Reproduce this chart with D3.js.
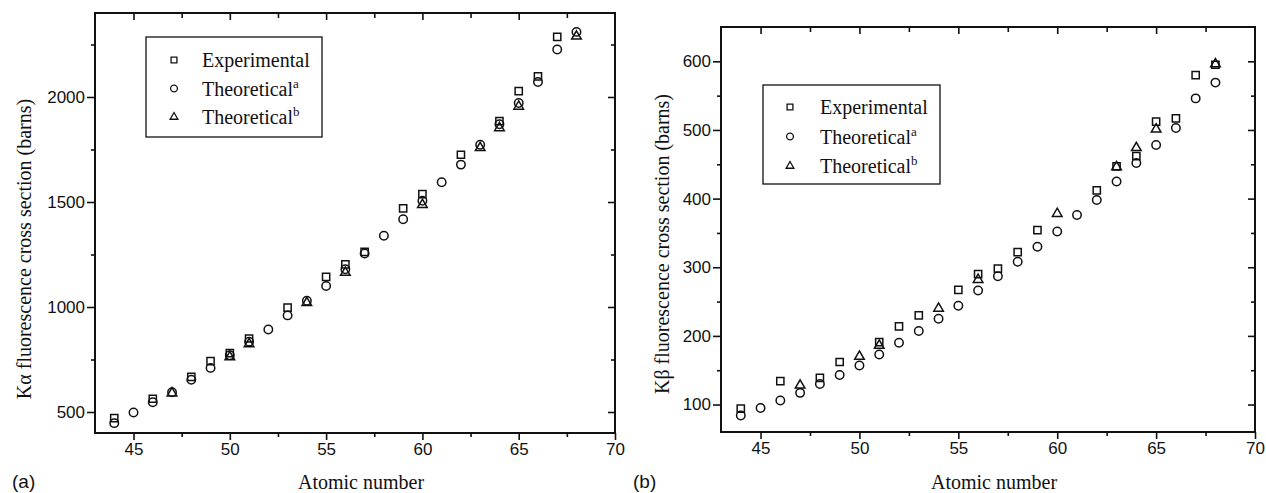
<!DOCTYPE html>
<html>
<head>
<meta charset="utf-8">
<script src="https://cdn.jsdelivr.net/npm/d3@7"></script>
<style>
  body { margin: 0; background: #fff; }
  .tick text { font-family: "Liberation Sans", Arial, sans-serif; font-size: 17px; fill: #111; }
  .tick line { stroke: #111; stroke-width: 1.6; }
  .title { font-family: "Liberation Serif", "Times New Roman", serif; font-size: 20px; fill: #111; }
</style>
</head>
<body>
<svg id="chart"></svg>
<script>
// atomic number (z) vs. fluorescence cross section in barns (v)
const kaExperimental = [
  { z: 44, v: 471 }, { z: 46, v: 563 }, { z: 48, v: 667 }, { z: 49, v: 742 },
  { z: 50, v: 780 }, { z: 51, v: 850 }, { z: 53, v: 997 }, { z: 55, v: 1143 },
  { z: 56, v: 1203 }, { z: 57, v: 1262 }, { z: 59, v: 1470 }, { z: 60, v: 1538 },
  { z: 62, v: 1725 }, { z: 64, v: 1885 }, { z: 65, v: 2028 }, { z: 66, v: 2098 },
  { z: 67, v: 2286 },
];
const kaTheoreticalA = [
  { z: 44, v: 447 }, { z: 45, v: 498 }, { z: 46, v: 546 }, { z: 47, v: 594 },
  { z: 48, v: 654 }, { z: 49, v: 710 }, { z: 50, v: 770 }, { z: 51, v: 835 },
  { z: 52, v: 893 }, { z: 53, v: 960 }, { z: 54, v: 1030 }, { z: 55, v: 1100 },
  { z: 56, v: 1180 }, { z: 57, v: 1255 }, { z: 58, v: 1339 }, { z: 59, v: 1418 },
  { z: 60, v: 1506 }, { z: 61, v: 1594 }, { z: 62, v: 1678 }, { z: 63, v: 1773 },
  { z: 64, v: 1870 }, { z: 65, v: 1971 }, { z: 66, v: 2071 }, { z: 67, v: 2226 },
  { z: 68, v: 2310 },
];
const kaTheoreticalB = [
  { z: 47, v: 590 }, { z: 50, v: 762 }, { z: 51, v: 824 }, { z: 54, v: 1020 },
  { z: 56, v: 1164 }, { z: 60, v: 1487 }, { z: 63, v: 1758 }, { z: 64, v: 1853 },
  { z: 65, v: 1955 }, { z: 68, v: 2289 },
];

const kbExperimental = [
  { z: 44, v: 94 }, { z: 46, v: 134 }, { z: 48, v: 139 }, { z: 49, v: 162 },
  { z: 51, v: 191 }, { z: 52, v: 214 }, { z: 53, v: 230 }, { z: 55, v: 267 },
  { z: 56, v: 290 }, { z: 57, v: 298 }, { z: 58, v: 322 }, { z: 59, v: 354 },
  { z: 62, v: 412 }, { z: 63, v: 447 }, { z: 64, v: 462 }, { z: 65, v: 512 },
  { z: 66, v: 517 }, { z: 67, v: 580 }, { z: 68, v: 595 },
];
const kbTheoreticalA = [
  { z: 44, v: 84 }, { z: 45, v: 95 }, { z: 46, v: 106 }, { z: 47, v: 117 },
  { z: 48, v: 130 }, { z: 49, v: 143 }, { z: 50, v: 157 }, { z: 51, v: 173 },
  { z: 52, v: 190 }, { z: 53, v: 207 }, { z: 54, v: 225 }, { z: 55, v: 244 },
  { z: 56, v: 266 }, { z: 57, v: 287 }, { z: 58, v: 308 }, { z: 59, v: 330 },
  { z: 60, v: 352 }, { z: 61, v: 376 }, { z: 62, v: 398 }, { z: 63, v: 425 },
  { z: 64, v: 452 }, { z: 65, v: 478 }, { z: 66, v: 503 }, { z: 67, v: 546 },
  { z: 68, v: 569 },
];
const kbTheoreticalB = [
  { z: 47, v: 128 }, { z: 50, v: 170 }, { z: 51, v: 186 }, { z: 54, v: 240 },
  { z: 56, v: 282 }, { z: 60, v: 378 }, { z: 63, v: 446 }, { z: 64, v: 474 },
  { z: 65, v: 501 }, { z: 68, v: 596 },
];

const legendLabels = ["Experimental", "Theoretical", "Theoretical"];
const legendSup = ["", "a", "b"];
const xMajor = [45, 50, 55, 60, 65, 70];
const xMinor = [47.5, 52.5, 57.5, 62.5, 67.5];
const kaYMajor = [500, 1000, 1500, 2000];
const kaYMinor = [750, 1250, 1750, 2250];
const kbYMajor = [100, 200, 300, 400, 500, 600];
const kbYMinor = [150, 250, 350, 450, 550];

const symbolTypes = [d3.symbolSquare, d3.symbolCircle, d3.symbolTriangle];
const symbolSizes = [52, 56, 40];

class Panel {
  constructor(_config, _series) {
    this.config = _config;
    this.series = _series;
    this.initVis();
  }

  initVis() {
    let vis = this;
    const c = vis.config;

    vis.chart = d3.select("#chart")
      .append("g")
      .attr("transform", `translate(${c.left},${c.top})`);

    vis.xScale = d3.scaleLinear().domain([43, 70]).range([0, c.width]);
    vis.yScale = d3.scaleLinear().domain(c.yDomain).range([c.height, 0]);

    const noLabel = () => "";

    // bottom + left: ticks outward with labels
    vis.chart.append("g").attr("transform", `translate(0,${c.height})`)
      .call(d3.axisBottom(vis.xScale).tickValues(xMajor).tickSize(7).tickPadding(3)
        .tickFormat(d3.format("d")));
    vis.chart.append("g").attr("transform", `translate(0,${c.height})`)
      .call(d3.axisBottom(vis.xScale).tickValues(xMinor).tickSize(4).tickFormat(noLabel));
    vis.chart.append("g")
      .call(d3.axisLeft(vis.yScale).tickValues(c.yMajor).tickSize(8).tickPadding(2)
        .tickFormat(d3.format("d")));
    vis.chart.append("g")
      .call(d3.axisLeft(vis.yScale).tickValues(c.yMinor).tickSize(4).tickFormat(noLabel));

    // top + right: mirrored ticks pointing inward
    vis.chart.append("g")
      .call(d3.axisTop(vis.xScale).tickValues(xMajor.slice(0, -1)).tickSize(-7).tickFormat(noLabel));
    vis.chart.append("g")
      .call(d3.axisTop(vis.xScale).tickValues(xMinor).tickSize(-5).tickFormat(noLabel));
    vis.chart.append("g").attr("transform", `translate(${c.width},0)`)
      .call(d3.axisRight(vis.yScale).tickValues(c.yMajor).tickSize(-7).tickFormat(noLabel));
    vis.chart.append("g").attr("transform", `translate(${c.width},0)`)
      .call(d3.axisRight(vis.yScale).tickValues(c.yMinor).tickSize(-4).tickFormat(noLabel));

    vis.chart.selectAll(".domain").remove();

    vis.chart.append("rect")
      .attr("width", c.width)
      .attr("height", c.height)
      .attr("fill", "none")
      .attr("stroke", "#111")
      .attr("stroke-width", 2);

    // points
    vis.series.forEach((data, i) => {
      vis.chart.append("g")
        .selectAll("path")
        .data(data)
        .join("path")
        .attr("transform", (d) => `translate(${vis.xScale(d.z)},${vis.yScale(d.v)})`)
        .attr("d", d3.symbol().type(symbolTypes[i]).size(symbolSizes[i]))
        .attr("fill", "none")
        .attr("stroke", "#111")
        .attr("stroke-width", 1.5);
    });

    // legend
    const lg = vis.chart.append("g")
      .attr("transform", `translate(${c.legend.x},${c.legend.y})`);
    lg.append("rect")
      .attr("width", c.legend.w)
      .attr("height", c.legend.h)
      .attr("fill", "#fff")
      .attr("stroke", "#111")
      .attr("stroke-width", 1.3);

    const items = lg.selectAll(".legend-item")
      .data(legendLabels)
      .join("g")
      .attr("class", "legend-item")
      .attr("transform", (d, i) => `translate(0,${c.legend.row0 + i * c.legend.rowStep})`);

    items.append("path")
      .attr("transform", `translate(${c.legend.symX},0)`)
      .attr("d", (d, i) => d3.symbol().type(symbolTypes[i]).size(symbolSizes[i] * 0.65)())
      .attr("fill", "none")
      .attr("stroke", "#111")
      .attr("stroke-width", 1.3);

    const txt = items.append("text")
      .attr("class", "title")
      .attr("x", c.legend.textX)
      .attr("y", 7)
      .text((d) => d);
    txt.append("tspan")
      .attr("dy", -8)
      .style("font-size", "13px")
      .text((d, i) => legendSup[i]);

    // axis titles
    vis.chart.append("text")
      .attr("class", "title")
      .attr("transform", `translate(${c.yTitleX},${c.yTitleY}) rotate(-90)`)
      .attr("text-anchor", "middle")
      .text(c.yLabel);

    vis.chart.append("text")
      .attr("class", "title")
      .attr("x", c.width / 2 + 6)
      .attr("y", 489 - c.top)
      .attr("text-anchor", "middle")
      .text("Atomic number");

    vis.chart.append("text")
      .attr("x", c.panelLabelX)
      .attr("y", 488 - c.top)
      .style("font-family", "'Liberation Sans', Arial, sans-serif")
      .style("font-size", "19px")
      .style("fill", "#111")
      .text(c.panelLabel);
  }
}

d3.select("#chart").attr("width", 1266).attr("height", 493);

new Panel({
  left: 95, top: 13, width: 520, height: 420,
  yDomain: [400, 2400], yMajor: kaYMajor, yMinor: kaYMinor,
  yLabel: "K\u03b1 fluorescence cross section (barns)",
  yTitleX: -64, yTitleY: 236,
  panelLabel: "(a)", panelLabelX: -83,
  legend: { x: 51, y: 24, w: 176, h: 100, row0: 23, rowStep: 28.5, symX: 28, textX: 56 },
}, [kaExperimental, kaTheoreticalA, kaTheoreticalB]);

new Panel({
  left: 721, top: 27, width: 534, height: 405,
  yDomain: [60, 650], yMajor: kbYMajor, yMinor: kbYMinor,
  yLabel: "K\u03b2 fluorescence cross section (barns)",
  yTitleX: -52, yTitleY: 217,
  panelLabel: "(b)", panelLabelX: -88,
  legend: { x: 42, y: 58, w: 177, h: 99, row0: 22, rowStep: 29.5, symX: 27, textX: 57 },
}, [kbExperimental, kbTheoreticalA, kbTheoreticalB]);
</script>
</body>
</html>
